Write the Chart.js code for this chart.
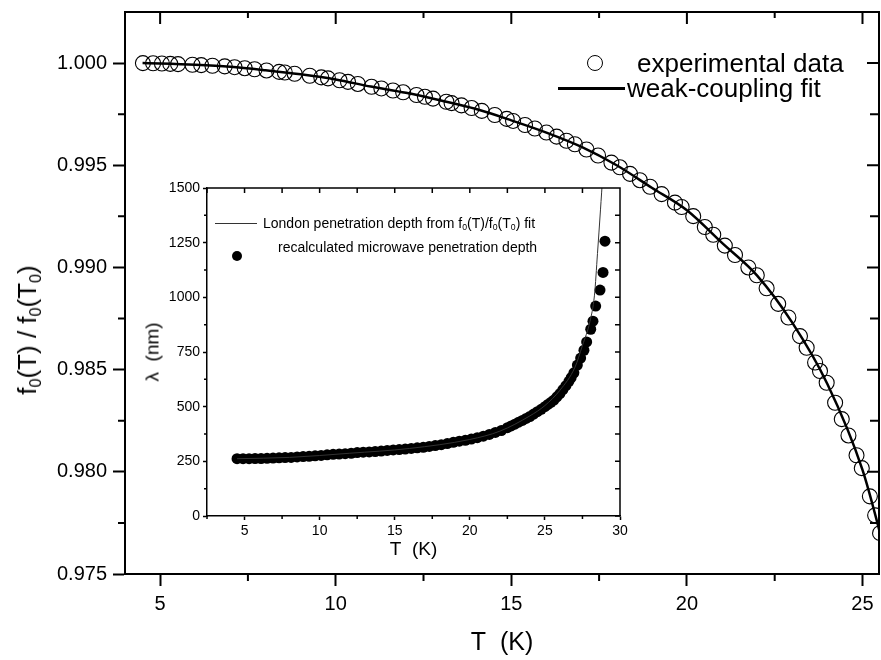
<!DOCTYPE html>
<html>
<head>
<meta charset="utf-8">
<script src="https://cdn.jsdelivr.net/npm/chart.js@4.4.1/dist/chart.umd.min.js"></script>
<style>
    body { margin: 0; background: #fff; }
    #wrap { position: relative; width: 881px; height: 660px; font-family: 'Liberation Sans', Arial, sans-serif; color: #000; }
    canvas { position: absolute; }
    #mainChart { left: 0; top: 0; }
    #insetChart { left: 150px; top: 175px; }
    .txt { position: absolute; white-space: nowrap; line-height: 1; }
    .txt sub { font-size: 62%; vertical-align: -0.28em; line-height: 0; }
    .rot { transform: translate(-50%, -50%) rotate(-90deg); }
    .vc { transform: translateY(-50%); }
</style>
</head>
<body>
<div id="wrap">
    <canvas id="mainChart" width="881" height="660"></canvas>
    <canvas id="insetChart" width="480" height="400"></canvas>

    <!-- main axis title and legend -->
    <div class="txt rot" style="left:27px; top:330px; font-size:26px;">f<sub>0</sub>(T) / f<sub>0</sub>(T<sub>0</sub>)</div>
    <div style="position:absolute; left:587px; top:55px; width:14px; height:14px; border:1.2px solid #000; border-radius:50%;"></div>
    <div class="txt vc" style="left:637px; top:63px; font-size:26px;">experimental data</div>
    <div style="position:absolute; left:558px; top:87px; width:67px; height:2.5px; background:#000;"></div>
    <div class="txt vc" style="left:627px; top:88px; font-size:26px;">weak-coupling fit</div>

    <!-- inset axis title and legend -->
    <div class="txt rot" style="left:152px; top:352px; font-size:19px;">&lambda;&nbsp;&nbsp;(nm)</div>
    <div style="position:absolute; left:215px; top:223px; width:42px; height:1px; background:#333;"></div>
    <div class="txt vc" style="left:263px; top:223px; font-size:14px;">London penetration depth from f<sub>0</sub>(T)/f<sub>0</sub>(T<sub>0</sub>) fit</div>
    <div style="position:absolute; left:232px; top:251px; width:10px; height:10px; background:#000; border-radius:50%;"></div>
    <div class="txt vc" style="left:278px; top:247px; font-size:14px;">recalculated microwave penetration depth</div>
</div>

<script>
// Main panel: resonance frequency ratio vs temperature
const mainT = [4.51, 4.80, 5.05, 5.29, 5.51, 5.92, 6.17, 6.49, 6.84, 7.12, 7.41, 7.69, 8.03, 8.39, 8.55,
    8.83, 9.26, 9.59, 9.78, 10.11, 10.35, 10.63, 11.02, 11.30, 11.63, 11.92, 12.30, 12.54, 12.77,
    13.15, 13.30, 13.58, 13.87, 14.16, 14.53, 14.87, 15.05, 15.39, 15.67, 16.00, 16.29, 16.57, 16.81,
    17.14, 17.47, 17.85, 18.09, 18.38, 18.66, 18.95, 19.28, 19.66, 19.85, 20.18, 20.51, 20.75, 21.08,
    21.37, 21.75, 21.99, 22.27, 22.60, 22.89, 23.22, 23.41, 23.65, 23.79, 23.98, 24.22, 24.41, 24.60,
    24.83, 24.98, 25.21, 25.36, 25.50];
const mainF = [1.00000, 0.99999, 0.99998, 0.99996, 0.99995, 0.99992, 0.99990, 0.99987, 0.99984, 0.99980,
    0.99975, 0.99970, 0.99964, 0.99957, 0.99954, 0.99948, 0.99938, 0.99930, 0.99925, 0.99916, 0.99908,
    0.99898, 0.99884, 0.99876, 0.99866, 0.99857, 0.99844, 0.99835, 0.99826, 0.99811, 0.99804, 0.99793,
    0.99780, 0.99766, 0.99746, 0.99727, 0.99717, 0.99697, 0.99680, 0.99660, 0.99640, 0.99620, 0.99603,
    0.99577, 0.99548, 0.99513, 0.99490, 0.99458, 0.99427, 0.99395, 0.99359, 0.99317, 0.99296, 0.99251,
    0.99198, 0.99160, 0.99107, 0.99061, 0.99000, 0.98962, 0.98898, 0.98822, 0.98755, 0.98664, 0.98607,
    0.98535, 0.98493, 0.98436, 0.98338, 0.98258, 0.98178, 0.98081, 0.98018, 0.97880, 0.97787, 0.97700];
const fitT = [4.5, 5, 6, 7, 8, 9, 10, 11, 12, 13, 14, 15, 16, 17, 18, 19, 20, 21, 22, 23, 24, 25, 25.5, 25.7];
const fitF = [1.00000, 0.99998, 0.99992, 0.99982, 0.99965, 0.99945, 0.99920, 0.99885, 0.99855, 0.99817,
    0.99775, 0.99720, 0.99660, 0.99590, 0.99500, 0.99390, 0.99280, 0.99120, 0.98960, 0.98730, 0.98430,
    0.98010, 0.97700, 0.97560];
const mainXTicks = [5, 10, 15, 20, 25];
const mainXMinor = [7.5, 12.5, 17.5, 22.5];
const mainYTicks = [0.975, 0.980, 0.985, 0.990, 0.995, 1.000];
const mainYMinor = [0.9775, 0.9825, 0.9875, 0.9925, 0.9975];

// Inset: penetration depth vs temperature
const insetT = [4.5, 4.9, 5.3, 5.7, 6.1, 6.5, 6.9, 7.3, 7.7, 8.1, 8.5, 8.9, 9.3, 9.7, 10.1, 10.5, 10.9,
    11.3, 11.7, 12.1, 12.5, 12.9, 13.3, 13.7, 14.1, 14.5, 14.9, 15.3, 15.7, 16.1, 16.5, 16.9, 17.3, 17.7,
    18.1, 18.5, 18.9, 19.3, 19.7, 20.1, 20.5, 20.9, 21.3, 21.7, 22.1, 22.5, 22.75, 23.0, 23.25, 23.5,
    23.75, 24.0, 24.25, 24.5, 24.75, 25.0, 25.2, 25.4, 25.6, 25.8, 26.0, 26.2, 26.4, 26.6, 26.75, 26.93,
    27.16, 27.38, 27.6, 27.78, 28.05, 28.2, 28.38, 28.67, 28.87, 29.0];
const insetLambda = [262, 262, 262, 263, 263, 264, 265, 266, 267, 268, 270, 272, 273, 275, 277, 280, 282,
    283, 285, 287, 290, 292, 293, 295, 297, 300, 302, 304, 306, 309, 312, 314, 318, 322,
    326, 331, 337, 342, 346, 352, 358, 365, 373, 382, 391, 404, 412, 420, 429, 437,
    446, 455, 466, 477, 488, 500, 510, 520, 530, 545, 560, 578, 596, 616, 633, 655,
    690, 722, 758, 796, 854, 891, 960, 1033, 1114, 1257];
const londonT = [4.5, 8, 12, 16, 20, 22, 24, 25, 26, 27, 27.5, 28, 28.3, 28.5, 28.7, 28.85, 29.0];
const londonLambda = [262, 268, 287, 309, 350, 388, 458, 505, 575, 680, 780, 890, 1010, 1200, 1400, 1560, 1750];
const insetXTicks = [5, 10, 15, 20, 25, 30];
const insetXMinor = [2.5, 7.5, 12.5, 17.5, 22.5, 27.5];
const insetYTicks = [0, 250, 500, 750, 1000, 1250, 1500];
const insetYMinor = [125, 375, 625, 875, 1125, 1375];

const FONT = "'Liberation Sans', Arial, sans-serif";

const toPoints = (xs, ys) => xs.map((x, i) => ({ x, y: ys[i] }));

// Mirrored top/right axes plus minor ticks, placed through the chart scales
const frameTicks = {
    id: 'frameTicks',
    afterDraw(chart, args, opts) {
        const { ctx, chartArea: a } = chart;
        const x = chart.scales.x, y = chart.scales.y;
        ctx.save();
        ctx.strokeStyle = '#000';
        ctx.lineWidth = opts.width;
        ctx.beginPath();
        ctx.moveTo(a.left, a.top);
        ctx.lineTo(a.right, a.top);
        ctx.lineTo(a.right, a.bottom);
        opts.xMajor.forEach(v => {
            const px = x.getPixelForValue(v);
            ctx.moveTo(px, a.top); ctx.lineTo(px, a.top + opts.topMajor);
        });
        opts.xMinor.forEach(v => {
            const px = x.getPixelForValue(v);
            ctx.moveTo(px, a.top); ctx.lineTo(px, a.top + opts.topMinor);
            ctx.moveTo(px, a.bottom); ctx.lineTo(px, a.bottom + opts.outMinor);
        });
        opts.yMajor.forEach(v => {
            const py = y.getPixelForValue(v);
            ctx.moveTo(a.right, py); ctx.lineTo(a.right - opts.rightMajor, py);
        });
        opts.yMinor.forEach(v => {
            const py = y.getPixelForValue(v);
            ctx.moveTo(a.right, py); ctx.lineTo(a.right - opts.rightMinor, py);
            ctx.moveTo(a.left, py); ctx.lineTo(a.left - opts.outMinor, py);
        });
        ctx.stroke();
        ctx.restore();
    }
};

function axis(opts) {
    return {
        type: 'linear',
        position: opts.position,
        min: opts.min,
        max: opts.max,
        afterBuildTicks: scale => { scale.ticks = opts.ticks.map(v => ({ value: v })); },
        afterFit: scale => {
            // fixed box size and no label overhang, so the plot area lands where the reference has it
            if (opts.position === 'left') scale.width = opts.size; else scale.height = opts.size;
            scale.paddingTop = 0; scale.paddingBottom = 0;
            scale.paddingLeft = 0; scale.paddingRight = 0;
        },
        border: { display: true, color: '#000', width: opts.width },
        grid: { display: true, drawOnChartArea: false, drawTicks: true, tickLength: opts.tickLength, tickWidth: opts.width, tickColor: '#000' },
        ticks: {
            color: '#000',
            font: { family: FONT, size: opts.fontSize },
            padding: opts.padding,
            maxRotation: 0,
            autoSkip: false,
            callback: opts.format
        },
        title: opts.title ? {
            display: true,
            text: opts.title,
            color: '#000',
            font: { family: FONT, size: opts.titleSize },
            padding: { top: 0, bottom: opts.titlePad }
        } : { display: false }
    };
}

new Chart(document.getElementById('mainChart'), {
    type: 'scatter',
    data: {
        datasets: [
            {
                label: 'experimental data',
                data: toPoints(mainT, mainF),
                pointRadius: 7.5,
                pointBorderWidth: 1.1,
                pointBorderColor: '#000',
                pointBackgroundColor: 'rgba(0,0,0,0)',
                showLine: false,
                clip: 0
            },
            {
                label: 'weak-coupling fit',
                data: toPoints(fitT, fitF),
                showLine: true,
                borderColor: '#000',
                borderWidth: 2.5,
                pointRadius: 0,
                cubicInterpolationMode: 'monotone',
                clip: 0
            }
        ]
    },
    options: {
        responsive: false,
        animation: false,
        devicePixelRatio: 1,
        layout: { autoPadding: false, padding: { top: 12, right: 2, left: 0, bottom: 0 } },
        plugins: {
            legend: { display: false },
            tooltip: { enabled: false },
            frameTicks: {
                width: 2, xMajor: mainXTicks, xMinor: mainXMinor, yMajor: mainYTicks, yMinor: mainYMinor,
                topMajor: 12, topMinor: 6, rightMajor: 12, rightMinor: 9, outMinor: 7
            }
        },
        scales: {
            x: axis({ position: 'bottom', min: 4, max: 25.47, ticks: mainXTicks, size: 86, width: 2,
                tickLength: 12, fontSize: 20, padding: 6, format: v => String(v),
                title: 'T  (K)', titleSize: 25, titlePad: 2 }),
            y: axis({ position: 'left', min: 0.975, max: 1.0025, ticks: mainYTicks, size: 125, width: 2,
                tickLength: 12, fontSize: 20, padding: 6, format: v => v.toFixed(3) })
        }
    },
    plugins: [frameTicks]
});

new Chart(document.getElementById('insetChart'), {
    type: 'scatter',
    data: {
        datasets: [
            {
                label: 'London penetration depth fit',
                data: toPoints(londonT, londonLambda),
                showLine: true,
                borderColor: '#333',
                borderWidth: 1,
                pointRadius: 0,
                cubicInterpolationMode: 'monotone',
                clip: 0
            },
            {
                label: 'recalculated microwave penetration depth',
                data: toPoints(insetT, insetLambda),
                pointRadius: 5.5,
                pointBorderWidth: 0,
                pointBackgroundColor: '#000',
                showLine: false,
                clip: 0
            }
        ]
    },
    options: {
        responsive: false,
        animation: false,
        devicePixelRatio: 1,
        layout: { autoPadding: false, padding: { top: 13, right: 10, left: 0, bottom: 0 } },
        plugins: {
            legend: { display: false },
            tooltip: { enabled: false },
            frameTicks: {
                width: 1.5, xMajor: insetXTicks, xMinor: insetXMinor, yMajor: insetYTicks, yMinor: insetYMinor,
                topMajor: 5, topMinor: 5, rightMajor: 5, rightMinor: 5, outMinor: 3
            }
        },
        scales: {
            x: axis({ position: 'bottom', min: 2.5, max: 30, ticks: insetXTicks, size: 59, width: 1.5,
                tickLength: 4, fontSize: 14, padding: 3, format: v => String(v),
                title: 'T  (K)', titleSize: 19, titlePad: 14 }),
            y: axis({ position: 'left', min: 0, max: 1500, ticks: insetYTicks, size: 57, width: 1.5,
                tickLength: 4, fontSize: 14, padding: 3, format: v => String(v) })
        }
    },
    plugins: [frameTicks]
});
</script>
</body>
</html>
